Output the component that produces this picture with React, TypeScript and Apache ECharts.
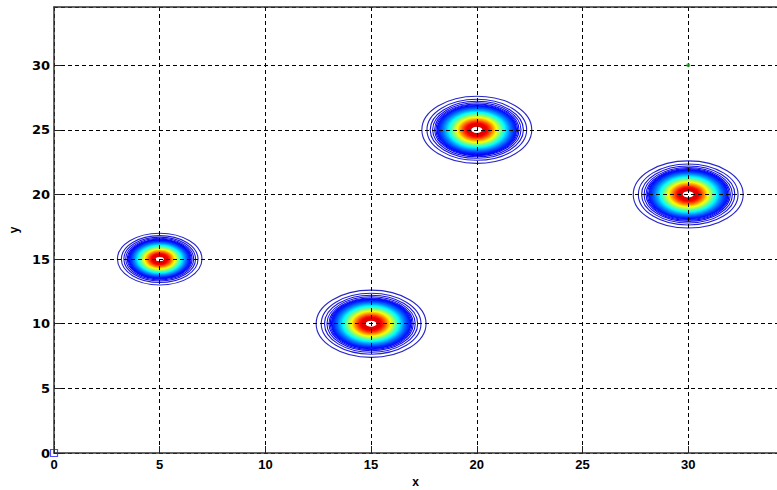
import React, { useEffect, useRef } from 'react';
import * as echarts from 'echarts';

// Blob (gaussian peak) centres and spreads
const X_CENTERS = [5, 15, 20, 30];
const Y_CENTERS = [15, 10, 25, 20];
const SPREADS = [2.0, 2.6, 2.6, 2.6];

// Stray markers seen on the plot
const ORIGIN_MARK = [0, 0];
const GREEN_MARK = [30, 30];

const X_MAX = 34.2;
const Y_MAX = 34.5;
const TICK_STEP = 5;

function jet(v: number) {
  const c = (t: number) => Math.max(0, Math.min(1, t));
  const r = c(1.5 - Math.abs(4 * v - 3));
  const g = c(1.5 - Math.abs(4 * v - 2));
  const b = c(1.5 - Math.abs(4 * v - 1));
  return `rgb(${Math.round(r * 255)},${Math.round(g * 255)},${Math.round(b * 255)})`;
}

export default function App() {
  const ref = useRef<HTMLDivElement>(null);
  useEffect(() => {
    if (!ref.current) return;
    const chart = echarts.init(ref.current, null, { renderer: 'svg' });
    const levels: number[] = [0.02, 0.04, 0.06, 0.08, 0.1, 0.115];
    for (let k = 13; k <= 95; k++) levels.push(k / 100);
    const L0 = Math.log(0.02);
    const blobData = X_CENTERS.map((x, i) => [x, Y_CENTERS[i], SPREADS[i]]);
    const xFont = {
      color: '#000',
      fontWeight: 'bold' as const,
      fontSize: 13,
      fontFamily: 'Liberation Sans Narrow, Liberation Sans, Arial, sans-serif',
    };
    const yFont = {
      color: '#000',
      fontWeight: 'bold' as const,
      fontSize: 13,
      fontFamily: 'DejaVu Sans, Verdana, sans-serif',
    };
    const nameFont = {
      color: '#000',
      fontWeight: 'bold' as const,
      fontSize: 12,
      lineHeight: 12,
      fontFamily: 'Liberation Sans, Arial, sans-serif',
    };
    const fmt = (v: number) => (Math.abs(v % TICK_STEP) < 1e-9 ? String(v) : '');
    const outerColor = (v: number) => {
      const t = v / 0.125;
      const b = Math.round(190 + 65 * t);
      const rg = Math.round(45 - 45 * t);
      return `rgb(${rg},${rg},${b})`;
    };
    chart.setOption({
      animation: false,
      backgroundColor: '#fff',
      grid: { left: 54, right: 0, top: 7, bottom: 37, outerBoundsMode: 'none', containLabel: false },
      xAxis: [
        {
          type: 'value',
          min: 0,
          max: X_MAX,
          interval: TICK_STEP,
          z: 5,
          name: 'x',
          nameLocation: 'middle',
          nameGap: 23,
          nameTextStyle: nameFont,
          axisLine: { show: true, onZero: false, lineStyle: { color: '#333', width: 1.5 } },
          axisTick: { show: true, inside: true, length: 7, lineStyle: { color: '#222' } },
          axisLabel: { ...xFont, margin: 5, formatter: fmt, showMaxLabel: false },
          splitLine: { show: true, lineStyle: { color: '#000', type: [4, 3], width: 1 } },
        },
        {
          type: 'value',
          position: 'top',
          min: 0,
          max: X_MAX,
          z: 5,
          axisLine: { show: true, onZero: false, lineStyle: { color: '#333', width: 1.5 } },
          axisTick: { show: false },
          axisLabel: { show: false },
          splitLine: { show: false },
        },
      ],
      yAxis: {
        type: 'value',
        min: 0,
        max: Y_MAX,
        interval: TICK_STEP,
        z: 5,
        name: 'y',
        nameLocation: 'middle',
        nameGap: 34,
        nameTextStyle: nameFont,
        axisLine: { show: true, onZero: false, lineStyle: { color: '#333', width: 1.5 } },
        axisTick: { show: true, inside: true, length: 7, lineStyle: { color: '#222' } },
        axisLabel: { ...yFont, margin: 4, formatter: fmt, showMaxLabel: false },
        splitLine: { show: true, lineStyle: { color: '#000', type: [4, 3], width: 1 } },
      },
      series: [
        {
          type: 'custom',
          xAxisIndex: 0,
          yAxisIndex: 0,
          z: 2,
          data: blobData,
          renderItem: (params: any, api: any) => {
            const cx = api.value(0);
            const cy = api.value(1);
            const R = api.value(2);
            const c = api.coord([cx, cy]);
            const sx = api.size([R, 0])[0];
            const sy = api.size([0, R])[1];
            const children = levels.map((v) => {
              const f = Math.sqrt(Math.log(v) / L0);
              return {
                type: 'ellipse',
                shape: { cx: c[0], cy: c[1], rx: sx * f, ry: sy * f },
                style: {
                  fill: 'none',
                  stroke: v < 0.125 ? outerColor(v) : jet(Math.min(v, 0.9)),
                  lineWidth: v < 0.125 ? 1.1 : v < 0.2 ? 1.2 : 1.5,
                },
              };
            });
            return { type: 'group', children };
          },
        },
        {
          type: 'scatter',
          xAxisIndex: 0,
          yAxisIndex: 0,
          z: 6,
          symbol: 'rect',
          symbolSize: 7,
          data: [ORIGIN_MARK],
          itemStyle: { color: 'rgba(0,0,0,0)', borderColor: '#2020ff', borderWidth: 1.2 },
        },
        {
          type: 'scatter',
          xAxisIndex: 0,
          yAxisIndex: 0,
          z: 6,
          symbol: 'circle',
          symbolSize: 4,
          data: [GREEN_MARK],
          itemStyle: { color: '#22aa22' },
        },
      ],
    });
    return () => chart.dispose();
  }, []);
  return (
    <div
      ref={ref}
      style={{ position: 'absolute', left: 0, top: 0, width: 777, height: 490, background: '#fff' }}
    />
  );
}
